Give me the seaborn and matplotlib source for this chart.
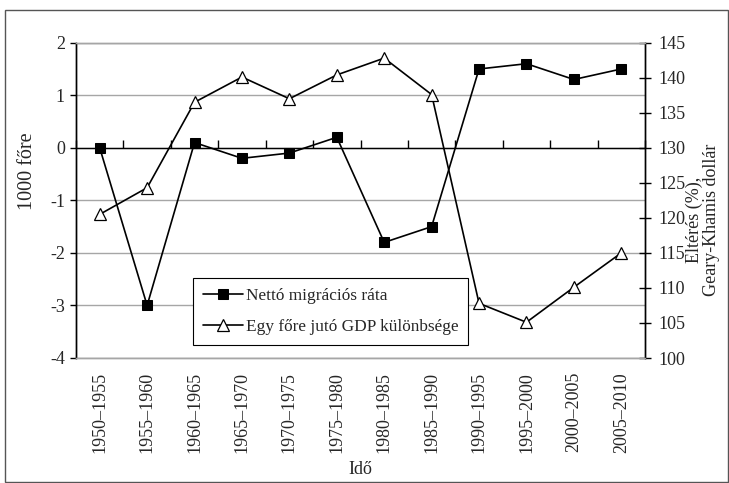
import numpy as np
import pandas as pd
import matplotlib
matplotlib.use("Agg")
import matplotlib.pyplot as plt
import seaborn as sns
from matplotlib.patches import Rectangle

periods = ["1950–1955", "1955–1960", "1960–1965", "1965–1970", "1970–1975", "1975–1980",
           "1980–1985", "1985–1990", "1990–1995", "1995–2000", "2000–2005", "2005–2010"]
migration = [0.0, -3.0, 0.1, -0.2, -0.1, 0.2, -1.8, -1.5, 1.5, 1.6, 1.3, 1.5]
gdp_diff = [120.5, 124.3, 136.5, 140.1, 137.0, 140.4, 142.8, 137.6, 107.8, 105.1, 110.1, 115.0]

left_ticks = [-4, -3, -2, -1, 0, 1, 2]
right_ticks = [100, 105, 110, 115, 120, 125, 130, 135, 140, 145]

sns.set_style("white")
plt.rcParams['font.family'] = ['Liberation Serif', 'DejaVu Serif']

df = pd.DataFrame({"period": periods, "migr": migration, "gdp": gdp_diff})
df["pos"] = np.arange(len(periods))

fig = plt.figure(figsize=(7.29, 4.83), dpi=100)
ax = fig.add_axes([76/729, 1-358/483, (645-76)/729, (358-42.7)/483])
ax2 = ax.twinx()

grid_c = "#a6a6a6"
ax.set_ylim(-4, 2)
ax.set_yticks(left_ticks)
ax.set_yticklabels([str(t) for t in left_ticks], fontsize=13)
for t in left_ticks:
    ax.axhline(t, color=grid_c, lw=1.0, zorder=0)
ax.axhline(0, color="black", lw=1.0, zorder=1)

sns.lineplot(data=df, x="pos", y="migr", ax=ax, color="black", lw=1.2,
             marker="s", markersize=7.3, markerfacecolor="black", markeredgecolor="black",
             label="Nettó migrációs ráta", legend=False, zorder=3)
sns.lineplot(data=df, x="pos", y="gdp", ax=ax2, color="black", lw=1.2,
             marker="^", markersize=8, markerfacecolor="white", markeredgecolor="black",
             markeredgewidth=0.9, label="Egy főre jutó GDP különbsége", legend=False, zorder=3)

ax.set_xlim(-0.5, len(periods) - 0.5)
ax.set_xticks(df["pos"])
ax.set_xticklabels(periods, rotation=90, fontsize=13)
ax.tick_params(axis="x", length=0, pad=10)
ax.tick_params(axis="y", direction="out", length=4, width=1, color="black", pad=4)
ax.set_xlabel("Idő", fontsize=13, labelpad=6)
ax.set_ylabel("")

ax2.set_ylim(100, 145)
ax2.set_yticks(right_ticks)
ax2.set_yticklabels([str(t) for t in right_ticks], fontsize=13)
ax2.tick_params(axis="y", direction="inout", length=8, width=1, color="black", pad=6)
ax2.set_ylabel("")

for a in (ax, ax2):
    a.spines["top"].set_color(grid_c)
    a.spines["bottom"].set_color(grid_c)
    a.spines["left"].set_color("black")
    a.spines["right"].set_color("black")
    for s in a.spines.values():
        s.set_linewidth(1.0)

# category boundary ticks on the zero line
frac0 = (0 - (-4)) / (2 - (-4))
sec = ax.secondary_xaxis(frac0)
sec.set_xticks(np.arange(-0.5, len(periods), 1.0))
sec.set_xticklabels([])
sec.tick_params(axis="x", direction="out", length=6, width=1, color="black")
sec.spines["bottom"].set_visible(False)
sec.spines["top"].set_visible(False)

fig.text(28/729, 1-171/483, "1000 főre", rotation=90, ha="center", va="center", fontsize=14.5)
fig.text(703/729, 1-220/483, "Eltérés (%),\nGeary-Khamis dollár", rotation=90,
         ha="center", va="center", multialignment="center", fontsize=13, linespacing=1.0)

h1, l1 = ax.get_legend_handles_labels()
h2, l2 = ax2.get_legend_handles_labels()
leg = ax2.legend(h1 + h2, l1 + l2, loc="lower left", bbox_to_anchor=(0.2056, 0.041),
                 fontsize=12.4, frameon=True, fancybox=False, framealpha=1,
                 edgecolor="black", handlelength=2.3, handletextpad=0.15,
                 borderpad=0.6, labelspacing=0.85, borderaxespad=0)
leg.get_frame().set_linewidth(0.8)

fig.patches.append(Rectangle((5/729, 1/483), 723/729, 1-11/483, transform=fig.transFigure,
                             fill=False, edgecolor="#555555", lw=1.0))

fig.savefig("out.png", dpi=100)
